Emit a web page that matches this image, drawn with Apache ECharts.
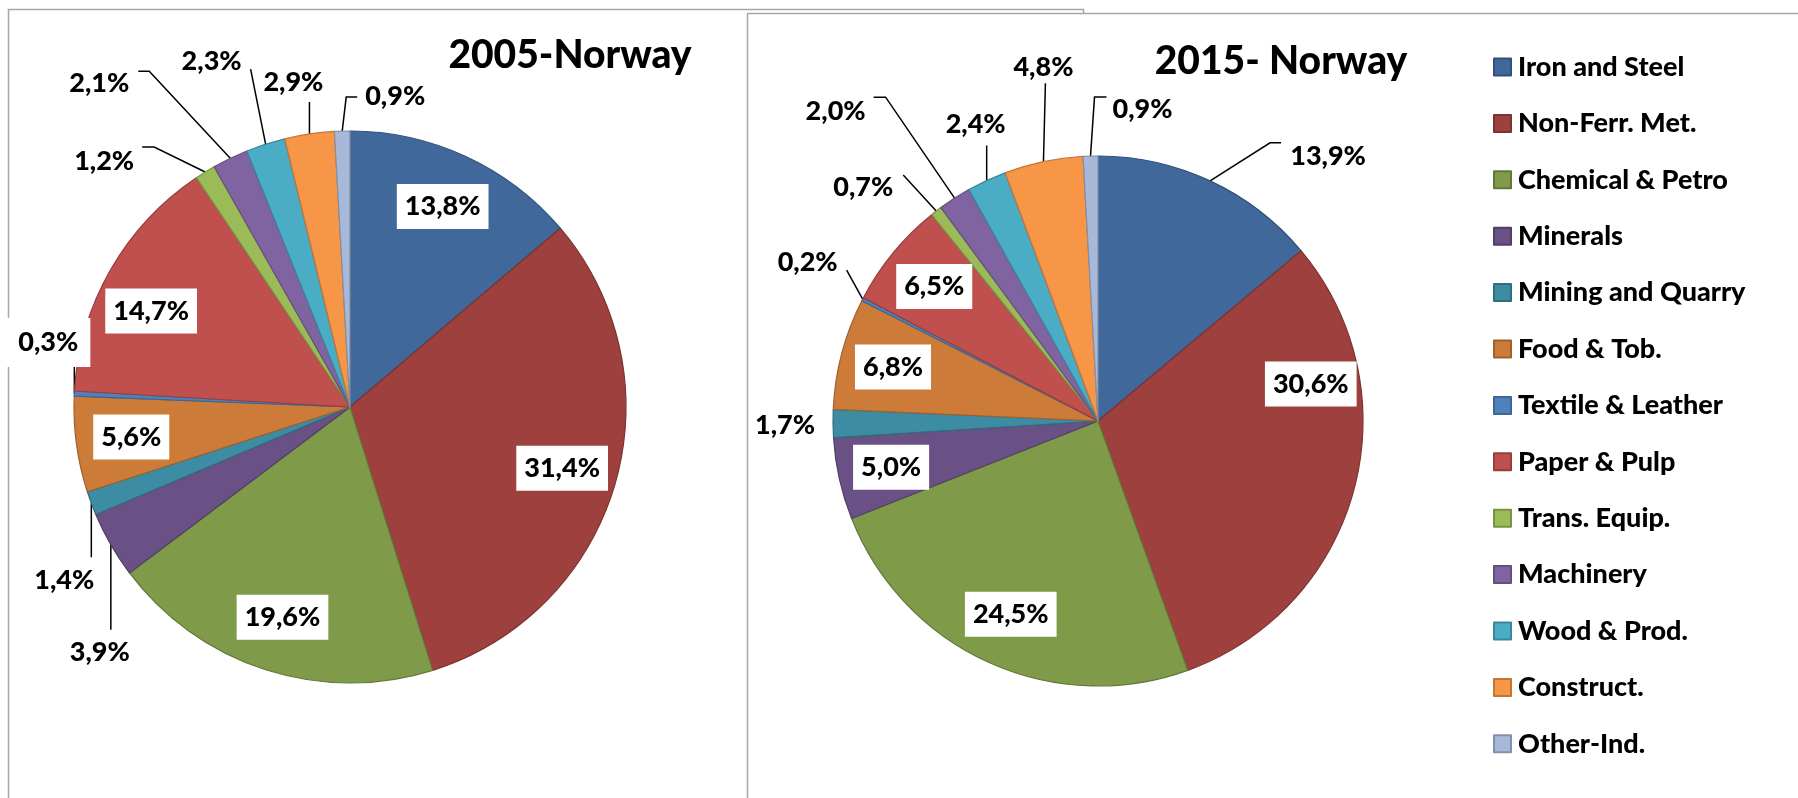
<!DOCTYPE html>
<html><head><meta charset="utf-8">
<script src="https://cdn.jsdelivr.net/npm/echarts@6/dist/echarts.min.js"></script>
<style>html,body{margin:0;padding:0;background:#fff}#c{width:1798px;height:798px}</style>
</head><body><div id="c"></div>
<script>
const categories = ['Iron and Steel','Non-Ferr. Met.','Chemical & Petro','Minerals','Mining and Quarry','Food & Tob.','Textile & Leather','Paper & Pulp','Trans. Equip.','Machinery','Wood & Prod.','Construct.','Other-Ind.'];
const values2005 = [13.8,31.4,19.6,3.9,1.4,5.6,0.3,14.7,1.2,2.1,2.3,2.9,0.9];
const values2015 = [13.9,30.6,24.5,5.0,1.7,6.8,0.2,6.5,0.7,2.0,2.4,4.8,0.9];
const titles = ['2005-Norway','2015- Norway'];
const colors = ['#40689A','#9E413E','#7F9A48','#695185','#3C8DA3','#CC7B38','#4F81BD','#C0504D','#9BBB59','#8064A2','#4BACC6','#F79646','#A8B8D8'];

// label placement (leader-line segments relative to the slice edge point computed by ECharts)
const labels2005 = [
  {inside:true},{inside:true},{inside:true},
  {line:[[0,85]], off:[-11,23]},
  {line:[[0,54]], off:[-27,23]},
  {inside:true},
  {line:[[0,-30]], off:[-30,-21], pad:[12,12,10,20]},
  {inside:true, rot:-4},
  {line:[[-51,-25],[-12,0]], off:[-38,14]},
  {line:[[-81,-87],[-11,0]], off:[-39,12]},
  {line:[[-15,-75]], off:[-39,-8]},
  {line:[[0,-32]], off:[-16,-20]},
  {line:[[4,-34],[11,0]], off:[38,-1]}
];
const labels2015 = [
  {line:[[60,-38],[11,0]], off:[47,13]},
  {inside:true, k:0.815, rot:-25},
  {inside:true},
  {inside:true},
  {line:[], off:[-48,2]},
  {inside:true},
  {line:[[-16,-29]], off:[-39,-8]},
  {inside:true},
  {line:[[-33,-36]], off:[-40,12]},
  {line:[[-69,-101],[-12,0]], off:[-38,14]},
  {line:[[0,-35]], off:[-11,-21]},
  {line:[[2,-80]], off:[-2,-14]},
  {line:[[4,-59],[12,0]], off:[36,12]}
];

const FONT = 'Lato';
const WEIGHT = 900;
function fmt(v){ return v.toFixed(1).replace('.', ',') + '%'; }
function darken(hex, f){
  const n = parseInt(hex.slice(1),16);
  const r = Math.round(((n>>16)&255)*f), g = Math.round(((n>>8)&255)*f), b = Math.round((n&255)*f);
  return 'rgb(' + r + ',' + g + ',' + b + ')';
}
function makeLayout(spec, cx, cy, R){
  return function(p){
    const s = spec[p.dataIndex];
    const lr = p.labelRect;
    if (s.inside){
      const lx = lr.x + lr.width/2, ly = lr.y + lr.height/2;
      const ang = Math.atan2(ly - cy, lx - cx) + (s.rot||0)*Math.PI/180;
      const k = s.k || 0.8;
      return {x: cx + Math.cos(ang)*k*R, y: cy + Math.sin(ang)*k*R, align:'center', verticalAlign:'middle'};
    }
    const pts = p.labelLinePoints;
    const p0 = [pts[0][0], pts[0][1]];
    const out = [p0];
    let cur = p0;
    s.line.forEach(function(v){ cur = [cur[0]+v[0], cur[1]+v[1]]; out.push(cur); });
    while (out.length < 3) out.push([cur[0], cur[1]]);
    return {x: cur[0]+s.off[0], y: cur[1]+s.off[1], align:'center', verticalAlign:'middle', labelLinePoints: out};
  };
}
function pieSeries(name, vals, cx, cy, R, spec){
  return {
    type:'pie', name:name, center:[cx,cy], radius:[0,R], startAngle:90, clockwise:true,
    avoidLabelOverlap:false, silent:true,
    data: categories.map(function(c,i){ return {
      name:c, value:vals[i],
      itemStyle:{color:colors[i], borderColor:darken(colors[i],0.78)},
      label:{position: spec[i].inside ? 'inside' : 'outside',
             padding: spec[i].inside ? [9,8] : (spec[i].pad || [2,4])},
      labelLine:{show: !spec[i].inside}
    };}),
    itemStyle:{borderWidth:1.2},
    label:{show:true, formatter:function(p){return fmt(p.value);}, fontFamily:FONT, fontWeight:WEIGHT, fontSize:27,
           color:'#000', backgroundColor:'#fff'},
    labelLine:{show:true, length:10, length2:10, lineStyle:{color:'#000', width:1.5}},
    emphasis:{disabled:true},
    labelLayout: makeLayout(spec, cx, cy, R)
  };
}

const chart = echarts.init(document.getElementById('c'), null, {renderer:'canvas'});
chart.setOption({
  animation:false,
  backgroundColor:'#fff',
  graphic:[
    {type:'rect', z:0, shape:{x:8.5,y:9.5,width:1075,height:900}, style:{fill:'#fff', stroke:'#a6a6a6', lineWidth:1.5}},
    {type:'rect', z:1, shape:{x:747.5,y:13.5,width:1100,height:900}, style:{fill:'#fff', stroke:'#a6a6a6', lineWidth:1.5}},
    {type:'text', z:2, x:570, y:55, style:{text:titles[0], fontFamily:FONT, fontWeight:WEIGHT, fontSize:39, fill:'#000', align:'center', verticalAlign:'middle'}},
    {type:'text', z:2, x:1281, y:61, style:{text:titles[1], fontFamily:FONT, fontWeight:WEIGHT, fontSize:39, fill:'#000', align:'center', verticalAlign:'middle'}}
  ],
  legend:{
    orient:'vertical', left:1493, top:52, padding:0, itemWidth:17, itemHeight:17, itemGap:26.4, icon:'rect',
    selectedMode:false, data:categories,
    textStyle:{fontFamily:FONT, fontWeight:WEIGHT, fontSize:27, color:'#000', lineHeight:30, padding:[0,0,0,2]}
  },
  series:[
    pieSeries('2005', values2005, 350, 407, 276, labels2005),
    pieSeries('2015', values2015, 1098, 421, 265, labels2015)
  ]
});
</script>
</body></html>
